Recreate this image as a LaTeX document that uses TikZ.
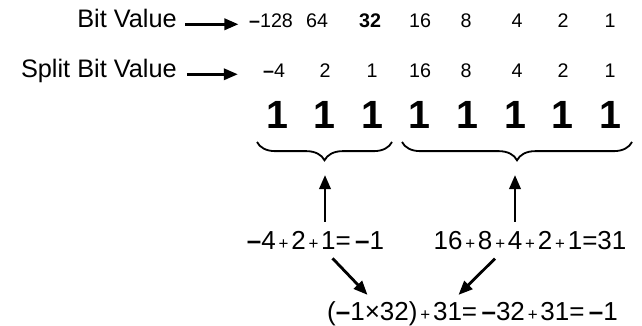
\documentclass[tikz,border=0pt]{standalone}
\usepackage{fontspec}
\setmainfont{Liberation Sans}
\usetikzlibrary{arrows.meta, decorations.pathreplacing, calc}
\newcommand{\mn}{\textbf{\textendash}}
\newcommand{\pl}{{\fontsize{12}{12}\selectfont\,+\,}}

\begin{document}
\begin{tikzpicture}[x=0.025cm, y=-0.025cm,
          lbl/.style={font=\fontsize{18}{20}\selectfont, inner sep=0pt, anchor=base east},
          val/.style={font=\fontsize{14}{16}\selectfont, inner sep=0pt, anchor=base},
          one/.style={font=\fontsize{28}{30}\selectfont\bfseries, inner sep=0pt, anchor=base},
          eq/.style={font=\fontsize{18.5}{20}\selectfont, inner sep=0pt, anchor=base},
          arr/.style={-{Triangle[length=10pt, width=8pt]}, line width=2pt},
          brc/.style={decorate, decoration={brace, mirror, amplitude=13pt}, line width=1.3pt}]
        \useasboundingbox (0,0) rectangle (642,326);
        % row labels
        \node[lbl] (bv) at (177,28) {Bit Value};
        \node[lbl] (sbv) at (177,78) {Split Bit Value};
        % bit values
        \foreach \v/\x [count=\i] in {{\mn128}/271, 64/317, {\textbf{32}}/370, 16/420, 8/466, 4/517, 2/563, 1/610}
          \node[val] (a\i) at (\x,28) {\v};
        \foreach \v/\x [count=\i] in {{\mn4}/274, 2/325, 1/372, 16/420, 8/466, 4/517, 2/563, 1/610}
          \node[val] (b\i) at (\x,78) {\v};
        \draw[arr] ([xshift=6pt]bv.mid east) -- ++(53,0);
        \draw[arr] ([xshift=7pt]sbv.mid east) -- ++(51,0);
        % the bits
        \foreach \i in {0,...,7}
          \node[one] (o\i) at (277+47.6*\i,129) {1};
        \coordinate (tipL) at (325,160);
        \coordinate (tipR) at (515,160);
        \draw[brc] (257,142) -- (392,142);
        \draw[brc] (402,142) -- (632,142);
        % sums
        \node[eq] (eqL) at (315.5,250) {\mn4\pl2\pl1=\,\mn1};
        \node[eq] (eqR) at (530,250) {16\pl8\pl4\pl2\pl1=31};
        \node[eq] (eqB) at (472.5,320) {(\mn1×32)\pl31=\,\mn32\pl31=\,\mn1};
        \draw[arr] ($(tipL |- eqL.north)+(0,-10)$) -- ($(tipL)+(0,15)$);
        \draw[arr] ($(tipR |- eqR.north)+(0,-10)$) -- ($(tipR)+(0,15)$);
        \draw[arr] ($(eqL.south)+(17,8)$) -- ($(eqB.north)+(-105,-6)$);
        \draw[arr] ($(eqR.south)+(-35,8)$) -- ($(eqB.north)+(-14,-6)$);
      \end{tikzpicture}
\end{document}
